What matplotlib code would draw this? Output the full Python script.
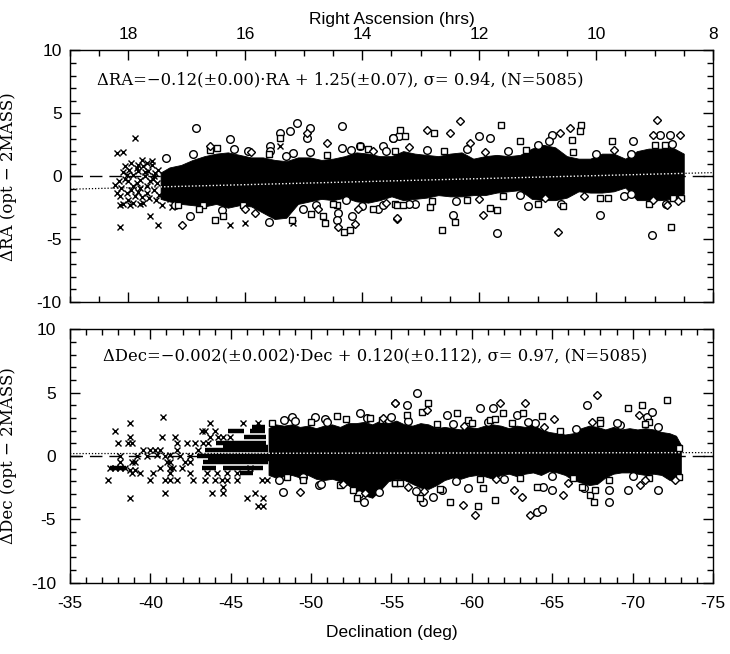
import matplotlib
matplotlib.use("Agg")
import matplotlib.pyplot as plt
from matplotlib.ticker import MultipleLocator

plt.rcParams["axes.unicode_minus"] = False
plt.rcParams["font.family"] = ["Liberation Sans", "DejaVu Sans"]

# ---------------- top panel: dRA vs RA ----------------
ra_fit = (-0.12, 1.25)

# envelope of the dense core of points
ra_band = [17.45, 17.3, 17.1, 16.9, 16.7, 16.5, 16.3, 16.1, 15.9, 15.7, 15.5, 15.3,
           15.1, 14.9, 14.7, 14.5, 14.3, 14.1, 13.9, 13.7, 13.5, 13.3, 13.1, 12.9,
           12.7, 12.5, 12.3, 12.1, 11.9, 11.7, 11.5, 11.3, 11.1, 10.9, 10.7, 10.5,
           10.3, 10.1, 9.9, 9.7, 9.5, 9.3, 9.1, 8.9, 8.7, 8.5]
ra_band_hi = [0.3, 0.7, 0.9, 1.3, 1.6, 1.8, 1.9, 1.7, 1.5, 1.5, 1.3, 1.2,
              1.5, 1.5, 1.3, 1.4, 1.6, 1.9, 1.8, 1.6, 1.6, 2.0, 1.8, 1.7,
              1.6, 1.8, 1.9, 1.4, 1.6, 1.7, 1.6, 1.7, 2.2, 2.5, 2.3, 1.6,
              1.4, 1.4, 1.8, 1.8, 1.4, 2.0, 2.2, 2.2, 2.3, 1.8]
ra_band_lo = [-1.8, -2.0, -2.2, -2.3, -2.4, -2.2, -2.5, -2.3, -2.4, -2.9, -3.4, -3.3,
              -2.2, -2.0, -1.8, -1.9, -1.7, -2.0, -2.1, -1.9, -1.6, -1.9, -1.8, -1.7,
              -1.5, -1.6, -1.6, -1.5, -1.5, -1.3, -1.2, -1.1, -1.8, -1.9, -1.9, -1.7,
              -1.2, -1.3, -1.3, -1.2, -0.9, -1.9, -1.9, -1.9, -1.8, -1.4]

# crosses (faint stars at the east end)
ra_cross_x = [18.23, 18.2, 18.17, 18.14, 18.12, 18.09, 18.06, 18.03, 18.0, 17.99,
              17.95, 17.95, 17.92, 17.89, 17.86, 17.86, 17.83, 17.8, 17.8, 17.77,
              17.75, 17.72, 17.69, 17.68, 17.66, 17.63, 17.6, 17.57, 17.56, 17.53,
              17.51, 17.49, 17.47, 18.0, 17.92, 17.75, 17.43, 17.29, 17.26, 18.03,
              17.83, 17.69, 17.89, 18.2, 18.09, 18.14, 17.63, 17.49, 17.77, 17.6,
              18.14, 16.26, 16.0, 15.18, 15.4, 17.97, 17.8, 18.06, 17.93, 17.71,
              17.58, 18.1, 17.84, 17.65, 17.54]
ra_cross_y = [-0.68, -1.3, -0.36, -1.6, -0.95, -2.2, 0.79, 0.12, -0.41, 0.52,
              1.05, -1.08, 0.07, -1.6, -0.55, 0.65, 0.39, -0.95, -0.28, -1.61,
              0.79, 0.0, -0.81, -1.35, 0.39, -0.41, 0.92, 0.0, -1.08, -1.88,
              -0.55, 0.52, -1.48, -1.88, -2.15, -2.15, -2.3, -1.8, -2.45, -1.35,
              0.92, 1.05, 3.05, 1.85, 1.9, -4.0, -3.2, -3.85, 1.3, 1.2,
              -2.3, -3.85, -3.7, -3.7, 2.4, -2.3, -2.2, -0.2, -0.8, 0.3,
              -0.2, 0.3, -1.25, -1.7, 0.25]

ra_circ_x = [16.84, 16.26, 15.41, 15.24, 15.12, 14.9, 14.95, 14.35, 14.35, 15.58,
             15.95, 15.18, 14.04, 13.64, 13.47, 16.95, 15.01, 14.41, 14.44, 14.18,
             14.27, 13.73, 13.64, 13.38, 13.47, 12.01, 11.81, 10.99, 10.76, 9.36,
             8.91, 8.74, 13.1, 12.44, 11.7, 11.16, 9.93, 9.53, 9.05, 17.35, 15.58,
             16.9, 16.2, 15.3, 14.9, 14.2, 13.6, 12.9, 12.2, 11.5, 10.8, 10.0,
             9.4, 8.7, 17.2, 16.4, 15.6, 14.8, 14.0, 13.2, 12.4, 11.3, 10.6,
             9.4, 8.8]
ra_circ_y = [3.85, 3.0, 3.45, 3.6, 4.25, 3.85, 3.05, 4.0, 2.25, 2.4,
             2.0, 1.85, 2.4, 2.4, 3.05, -3.2, -2.6, -2.9, -3.5, -3.2,
             -1.9, -2.6, -2.3, 3.2, 3.05, 3.2, 3.05, 2.5, 3.3, 2.8,
             3.3, 3.3, -2.2, -3.1, -4.55, -2.4, -3.1, -1.6, -4.7, 1.45, 2.0,
             1.8, 2.2, 1.6, 1.9, 2.1, 2.0, 2.1, 2.2, 2.0, 2.8, 1.8,
             1.8, 2.6, -2.3, -2.7, -3.6, -2.3, -2.4, -2.2, -2.0, -1.5, -2.2,
             -1.4, -2.2]

ra_sq_x = [15.41, 16.49, 14.04, 13.44, 17.15, 16.72, 16.52, 16.38, 16.04, 14.87,
           14.67, 14.64, 14.44, 14.32, 14.21, 13.81, 13.44, 13.35, 13.27, 12.78,
           11.62, 11.3, 10.25, 10.28, 10.42, 9.73, 8.82, 13.41, 13.3, 12.84,
           12.64, 12.41, 12.21, 11.81, 11.7, 10.56, 9.93, 8.71, 8.68, 8.54,
           16.6, 15.6, 14.6, 13.9, 12.6, 11.2, 10.4, 9.0, 16.8, 15.2, 14.5,
           12.8, 11.6, 11.0, 9.8, 9.1]
ra_sq_y = [3.05, 2.25, 2.4, 2.0, -2.3, -2.3, -3.5, -3.2, -2.3, -3.0,
           -3.2, -3.7, -2.3, -4.4, -4.3, -2.6, -2.2, 3.7, 3.2, 3.45,
           4.1, 2.8, 4.1, 3.6, 2.9, 2.8, 2.5, -2.3, -2.3, -2.45,
           -4.3, -3.6, -1.9, -2.55, -2.7, -2.4, -1.75, -4.0, -1.75, -1.75,
           2.1, 1.8, 1.7, 2.2, 2.0, 2.1, 1.9, 2.5, -2.6, -3.5, -2.2,
           -2.0, -1.6, -2.2, -1.7, -2.2]

ra_dia_x = [14.95, 14.61, 16.6, 13.81, 17.09, 15.84, 14.75, 14.41, 14.13, 14.07,
            13.41, 12.9, 12.5, 12.33, 12.16, 10.62, 10.45, 8.96, 9.02, 8.56,
            13.41, 11.93, 10.87, 10.65, 9.02, 8.79, 15.9, 13.2, 11.9, 9.7,
            16.0, 13.6, 12.0, 10.2, 8.6]
ra_dia_y = [3.45, 2.65, 2.4, 2.0, -3.9, -2.9, -2.6, -4.0, -3.8, -2.6,
            -3.4, 3.7, 3.45, 4.4, 2.65, 3.45, 3.85, 4.5, 3.3, 3.3,
            -3.35, -3.1, -1.75, -4.4, -1.9, -2.3, 1.9, 2.3, 1.9, 2.1,
            -2.6, -2.1, -1.8, -1.6, -2.0]

# ---------------- bottom panel: dDec vs Dec ----------------
dec_fit = (-0.002, 0.120)

dec_band = [-47.35, -47.8, -48.3, -48.8, -49.3, -49.8, -50.3, -50.8, -51.3, -51.8,
            -52.3, -52.8, -53.3, -53.8, -54.3, -54.8, -55.3, -55.8, -56.3, -56.8,
            -57.3, -57.8, -58.3, -58.8, -59.3, -59.8, -60.3, -60.8, -61.3, -61.8,
            -62.3, -62.8, -63.3, -63.8, -64.3, -64.8, -65.3, -65.8, -66.3, -66.8,
            -67.3, -67.8, -68.3, -68.8, -69.3, -69.8, -70.3, -70.8, -71.3, -71.8,
            -72.3, -72.7, -73.0]
dec_band_hi = [2.2, 2.5, 2.4, 2.5, 2.3, 2.4, 2.2, 2.4, 2.5, 2.3,
               2.6, 2.6, 2.7, 2.5, 2.8, 2.6, 2.8, 2.5, 2.4, 2.6,
               2.5, 2.2, 2.3, 2.2, 2.1, 2.3, 2.2, 2.4, 2.5, 2.4,
               2.2, 2.4, 2.3, 2.5, 2.1, 1.9, 1.8, 1.7, 1.8, 2.2,
               2.4, 2.3, 2.1, 2.3, 2.1, 2.2, 2.1, 2.2, 2.1, 1.9,
               1.8, 1.6, 0.9]
dec_band_lo = [-1.5, -1.7, -1.6, -1.5, -1.7, -1.5, -1.8, -1.9, -1.8, -2.0,
               -2.3, -2.8, -3.1, -3.3, -2.7, -2.0, -1.8, -1.9, -2.2, -2.5,
               -2.6, -2.3, -1.9, -1.7, -1.8, -1.6, -1.5, -1.6, -1.8, -1.5,
               -1.4, -1.6, -1.4, -1.3, -1.5, -1.2, -1.3, -1.5, -1.9, -2.1,
               -2.3, -2.2, -1.7, -1.4, -1.3, -1.3, -1.4, -1.5, -1.4, -1.5,
               -1.9, -2.0, -1.4]

# quantised rows of crosses that merge into solid strokes
dec_row_y = [2.0, 2.0, 2.3, 1.53, 1.06, 0.75, 0.47, 0.0, -0.2, -0.45,
             -0.97, -0.97, -0.97, -1.37]
dec_row_start = [-44.85, -46.2, -46.3, -45.8, -44.1, -44.5, -43.4, -42.9, -43.6, -43.3,
                 -43.2, -44.5, -37.5, -45.6]
dec_row_end = [-45.8, -47.1, -47.1, -47.2, -47.2, -47.3, -47.3, -47.35, -47.35, -47.3,
               -44.1, -47.0, -38.5, -46.4]

dec_cross_x = [-40.81, -38.73, -43.71, -45.79, -46.72, -37.8, -43.2, -43.4, -44.02,
               -38.73, -40.71, -41.54, -43.71, -44.23, -44.54, -44.96,
               -38.01, -38.63, -38.84, -41.64, -42.26, -42.78, -43.3, -43.61,
               -39.56, -39.98, -40.29, -40.6, -41.64, -42.99,
               -38.11, -39.15, -39.77, -40.39, -40.91, -41.22, -41.85, -42.47,
               -38.11, -38.84, -39.05, -41.02, -41.22, -42.16, -42.47,
               -37.49, -37.8, -38.11, -38.42, -38.73, -39.05, -40.6, -41.22, -41.43,
               -41.95, -46.2,
               -38.84, -39.36, -40.19, -41.22, -42.47, -43.51, -44.13, -44.75, -45.37,
               -37.39, -39.98, -40.91, -41.22, -41.64, -42.68, -43.4, -44.02, -44.44,
               -44.75, -45.37, -46.93, -47.24,
               -40.91, -43.82, -44.54, -44.54, -46.51, -38.73, -46.0, -46.99, -46.72,
               -47.03]
dec_cross_y = [3.05, 2.58, 2.58, 2.58, 2.58, 2.0, 2.0, 2.0, 2.0,
               1.53, 1.53, 1.53, 1.53, 1.53, 1.53, 1.53,
               1.06, 1.06, 1.06, 1.06, 1.06, 1.06, 1.06, 1.06,
               0.47, 0.47, 0.47, 0.47, 0.47, 0.47,
               0.0, 0.0, 0.0, 0.08, 0.0, 0.08, 0.0, 0.0,
               -0.45, -0.45, -0.45, -0.45, -0.45, -0.45, -0.45,
               -0.97, -0.97, -0.97, -0.97, -1.1, -1.1, -0.97, -0.97, -0.97,
               -0.97, -0.97,
               -1.37, -1.37, -1.37, -1.37, -1.37, -1.37, -1.37, -1.37, -1.37,
               -1.9, -1.9, -1.9, -1.9, -1.9, -1.9, -1.9, -1.9, -1.9,
               -1.9, -1.9, -1.9, -1.9,
               -2.95, -2.95, -2.95, -2.42, -2.95, -3.35, -3.35, -3.35, -3.96,
               -3.96]

dec_circ_x = [-48.28, -50.46, -50.25, -50.87, -53.05, -55.0, -48.8, -48.3, -49.5,
              -53.26, -54.2, -56.57, -55.95, -58.44, -60.51, -61.34, -62.8, -63.93,
              -67.15, -70.9, -71.2, -69.2, -56.98, -57.6, -58.13, -59.79, -64.45,
              -64.97, -64.04, -64.35, -68.5, -68.5, -69.74, -71.6,
              -49.0, -51.0, -53.5, -56.0, -58.8, -61.0, -63.5, -66.5, -69.0, -71.6,
              -48.0, -50.6, -53.0, -56.5, -59.0, -62.0, -65.0, -67.0, -70.0]
dec_circ_y = [-2.82, -2.3, 3.1, 2.9, 3.37, 3.1, 3.1, 2.84, -1.64,
              -3.62, -2.82, 4.95, 4.03, 3.24, 3.77, 3.77, 3.24, 2.58,
              4.03, 3.1, 3.5, 2.45, -3.62, -3.22, -2.69, -2.56, -2.43,
              -2.69, -4.41, -4.15, -2.69, -3.62, -2.69, -2.69,
              2.8, 2.7, 3.0, 2.8, 2.5, 2.7, 2.7, 2.1, 2.6, 2.3,
              -1.9, -2.2, -3.0, -2.8, -2.0, -1.8, -1.6, -2.5, -1.6]

dec_sq_x = [-51.6, -53.67, -54.4, -47.55, -48.5, -52.6, -52.85, -55.23, -55.95,
            -56.88, -57.3, -59.06, -59.79, -61.96, -61.13, -61.45, -63.2, -64.35,
            -67.98, -69.74, -70.57, -71.0, -72.13, -55.22, -56.78, -58.64, -60.41,
            -60.72, -61.45, -64.04, -66.32, -66.84, -67.36, -67.57, -67.67, -72.86,
            -72.86, -50.0, -52.2, -57.8, -60.0, -62.5, -65.5, -68.0, -70.8,
            -49.5, -51.8, -55.5, -58.0, -60.5, -63.0, -68.5, -71.0]
dec_sq_y = [3.16, 2.98, 2.84, 2.58, -1.64, -2.69, -3.35, -2.16, 3.24,
            3.5, 4.16, 3.37, 2.84, 3.37, 2.84, 2.9, 3.37, 3.16,
            2.84, 3.77, 4.03, 2.71, 4.43, -2.16, -3.35, -3.62, -3.96,
            -2.56, -3.48, -2.43, -1.77, -2.43, -3.09, -3.62, -2.69, -1.64,
            0.6, 2.7, 2.9, 2.5, 2.6, 2.6, 2.0, 2.6, 2.5,
            -1.9, -2.3, -2.1, -2.6, -1.8, -1.7, -1.9, -1.7]

dec_dia_x = [-49.3, -55.23, -53.36, -55.22, -57.2, -61.76, -63.3, -65.08, -67.77,
             -70.37, -56.05, -59.47, -60.2, -62.59, -63.1, -63.62, -65.7, -70.47,
             -70.78, -72.65, -54.5, -59.5, -64.5, -67.5, -52.0, -57.0, -61.5, -66.0]
dec_dia_y = [-2.82, 4.16, -2.95, 4.16, 3.64, 4.16, 4.16, 2.9, 4.82,
             3.24, -2.42, -3.88, -4.68, -2.69, -3.22, -4.68, -3.09, -2.29,
             -1.9, -1.9, 3.0, 2.4, 2.3, 2.7, -2.2, -2.8, -1.8, -2.1]

serif = "DejaVu Serif"
open_kw = dict(linestyle="none", markerfacecolor="white", markeredgecolor="black",
               markeredgewidth=1.0, zorder=3)


def style_axes(ax, major, minor):
    ax.set_ylim(-10, 10)
    ax.yaxis.set_major_locator(MultipleLocator(5))
    ax.yaxis.set_minor_locator(MultipleLocator(1))
    ax.xaxis.set_major_locator(MultipleLocator(major))
    ax.xaxis.set_minor_locator(MultipleLocator(minor))
    ax.tick_params(which="both", direction="in", top=True, bottom=True,
                   left=True, right=True, width=1.0, labelsize=12.5)
    ax.tick_params(which="major", length=7.5)
    ax.tick_params(which="minor", length=4)
    for sp in ax.spines.values():
        sp.set_linewidth(1.0)


def draw_fit(ax, xlo, xhi, band_lo, band_hi, fit):
    xs = [xlo, xhi]
    ax.axhline(0, color="black", linestyle=(0, (9, 5)), linewidth=1.0, zorder=1)
    ax.plot(xs, [fit[0] * x + fit[1] for x in xs], color="black",
            linestyle=(0, (1, 1.5)), linewidth=0.9, zorder=1)
    xb = [band_lo, band_hi]
    ax.plot(xb, [fit[0] * x + fit[1] for x in xb], color="white",
            linestyle=(0, (1, 1.5)), linewidth=1.0, zorder=5)


fig = plt.figure(figsize=(7.3, 6.54), dpi=100)
ax1 = fig.add_axes([0.0959, 0.5382, 0.8808, 0.3846])
ax2 = fig.add_axes([0.0959, 0.1093, 0.8808, 0.3869])

# top panel
ax1.set_xlim(19, 8)
style_axes(ax1, 2, 0.5)
ax1.tick_params(labeltop=True, labelbottom=False, pad=6)
ax1.xaxis.set_label_position("top")
ax1.set_xlabel("Right Ascension (hrs)", fontsize=12.5, labelpad=2)
draw_fit(ax1, 19, 8, ra_band[0], ra_band[-1], ra_fit)
ax1.fill_between(ra_band, ra_band_lo, ra_band_hi, color="black", linewidth=0.6,
                 edgecolor="black", zorder=2)
ax1.plot(ra_cross_x, ra_cross_y, linestyle="none", marker="x", markersize=4.5,
         markeredgewidth=1.0, color="black", zorder=3)
ax1.plot(ra_circ_x, ra_circ_y, marker="o", markersize=5.5, **open_kw)
ax1.plot(ra_sq_x, ra_sq_y, marker="s", markersize=5, **open_kw)
ax1.plot(ra_dia_x, ra_dia_y, marker="D", markersize=4.5, **open_kw)
ax1.text(0.042, 0.885,
         "\u0394RA=\u22120.12(\u00b10.00)\u00b7RA + 1.25(\u00b10.07), \u03c3= 0.94, (N=5085)",
         transform=ax1.transAxes, ha="left", va="center", fontsize=11.8,
         family=serif)
ax1.set_ylabel("\u0394RA (opt \u2212 2MASS)", fontsize=12, family=serif)
ax1.yaxis.set_label_coords(-0.082, 0.5)

# bottom panel
ax2.set_xlim(-35, -75)
style_axes(ax2, 5, 1)
ax2.tick_params(labeltop=False, labelbottom=True, pad=10)
ax2.set_xlabel("Declination (deg)", fontsize=12.5, labelpad=10)
draw_fit(ax2, -35, -75, dec_band[0], dec_band[-1], dec_fit)
ax2.fill_between(dec_band, dec_band_lo, dec_band_hi, color="black", linewidth=0.6,
                 edgecolor="black", zorder=2)
ax2.hlines(dec_row_y, dec_row_start, dec_row_end, color="black", linewidth=3.2,
           zorder=2)
ax2.plot(dec_cross_x, dec_cross_y, linestyle="none", marker="x", markersize=4.5,
         markeredgewidth=1.0, color="black", zorder=3)
ax2.plot(dec_circ_x, dec_circ_y, marker="o", markersize=5.5, **open_kw)
ax2.plot(dec_sq_x, dec_sq_y, marker="s", markersize=5, **open_kw)
ax2.plot(dec_dia_x, dec_dia_y, marker="D", markersize=4.5, **open_kw)
ax2.text(0.051, 0.895,
         "\u0394Dec=\u22120.002(\u00b10.002)\u00b7Dec + 0.120(\u00b10.112), \u03c3= 0.97, (N=5085)",
         transform=ax2.transAxes, ha="left", va="center", fontsize=11.8,
         family=serif)
ax2.set_ylabel("\u0394Dec (opt \u2212 2MASS)", fontsize=12, family=serif)
ax2.yaxis.set_label_coords(-0.082, 0.5)

fig.savefig("out.png", dpi=100)
